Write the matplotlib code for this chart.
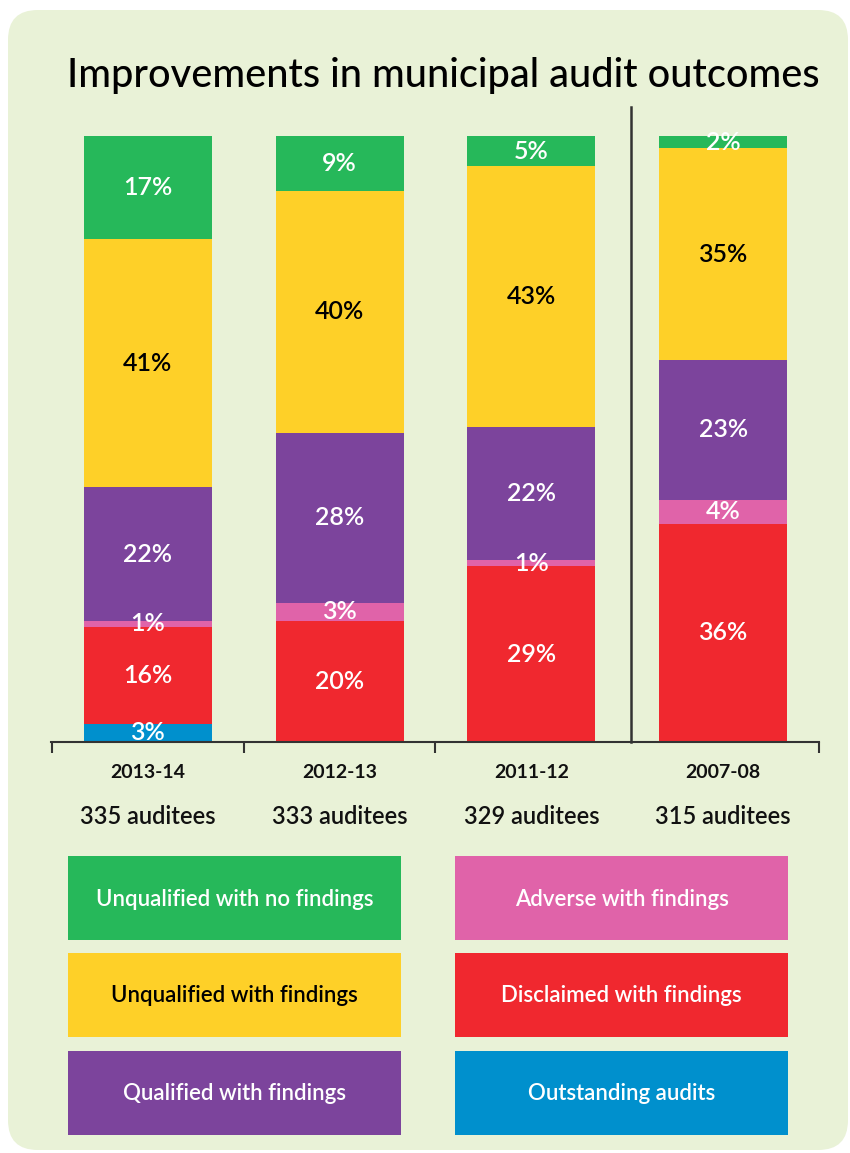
import numpy as np
import matplotlib.pyplot as plt
from matplotlib.patches import FancyBboxPatch, Rectangle

# ---- data -------------------------------------------------------------
years = ["2013-14", "2012-13", "2011-12", "2007-08"]
auditees = [335, 333, 329, 315]

categories = [
    "Outstanding audits",
    "Disclaimed with findings",
    "Adverse with findings",
    "Qualified with findings",
    "Unqualified with findings",
    "Unqualified with no findings",
]
outstanding = [3, 0, 0, 0]
disclaimed = [16, 20, 29, 36]
adverse = [1, 3, 1, 4]
qualified = [22, 28, 22, 23]
unqualified_findings = [41, 40, 43, 35]
unqualified_clean = [17, 9, 5, 2]
series = [outstanding, disclaimed, adverse, qualified,
          unqualified_findings, unqualified_clean]

colors = ["#0090cd", "#f0282f", "#e063a9", "#7c449c", "#fed028", "#26b85a"]
text_colors = ["white", "white", "white", "white", "black", "white"]

BG = "#e9f2d7"
FONT = ["Lato", "DejaVu Sans"]
W, H = 850, 1153

fig = plt.figure(figsize=(W / 100, H / 100), dpi=100)
fig.patch.set_facecolor("white")

# rounded panel behind everything
panel = FancyBboxPatch((8 / W, 1 - 1150 / H), 840 / W, 1140 / H,
                       boxstyle="round,pad=0,rounding_size=0.035",
                       transform=fig.transFigure, fc=BG, ec="none",
                       mutation_aspect=W / H, zorder=-5)
fig.patches.append(panel)

fig.text(443 / W, 1 - 76 / H, "Improvements in municipal audit outcomes",
         ha="center", va="center", fontsize=28.5, family=FONT,
         weight="medium", zorder=5)

# ---- stacked bars -----------------------------------------------------
def fy(py):
    return 1 - py / H

ax = fig.add_axes([51 / W, fy(742), (819 - 51) / W, (742 - 100) / H])
ax.set_facecolor("none")
ymax = (742 - 100) / 6.06
ax.set_ylim(0, ymax)
ax.set_xlim(-0.505, 3.5)

x = np.arange(len(years))
bottom = np.zeros(len(years))
for vals, c, tc in zip(series, colors, text_colors):
    vals = np.array(vals, dtype=float)
    ax.bar(x, vals, bottom=bottom, width=0.667, color=c, lw=0, zorder=2)
    for xi, v, b in zip(x, vals, bottom):
        if v > 0:
            ax.text(xi, b + v / 2, f"{int(v)}%", ha="center", va="center",
                    color=tc, fontsize=18, family=FONT, weight="semibold",
                    zorder=3, clip_on=False)
    bottom += vals

# axis cosmetics
for s in ["top", "left", "right"]:
    ax.spines[s].set_visible(False)
ax.spines["bottom"].set_color("#333333")
ax.spines["bottom"].set_linewidth(1.5)
ax.set_yticks([])
ax.set_xticks([])
ax.set_xticks([-0.5, 0.5, 1.5, 3.5], minor=True)
ax.tick_params(axis="x", which="minor", length=8, width=1.5, color="#333333",
               direction="out")
ax.plot([2.52, 2.52], [0, (742 - 107) / 6.06], color="#333333", lw=1.8,
        clip_on=False, zorder=4)

tr = ax.get_xaxis_transform()
for xi, yr, n in zip(x, years, auditees):
    ax.text(xi, -30 / 642, yr, transform=tr, ha="center", va="center",
            fontsize=14, family=FONT, weight="bold", color="#111111")
    ax.text(xi, -75 / 642, f"{n} auditees", transform=tr, ha="center",
            va="center", fontsize=17, family=FONT, weight="semibold",
            color="#111111")

# ---- legend boxes -----------------------------------------------------
lax = fig.add_axes([0, 0, 1, 1])
lax.set_xlim(0, W)
lax.set_ylim(H, 0)
lax.axis("off")
lax.set_facecolor("none")

legend_order = [5, 2, 4, 1, 3, 0]   # left/right per row, top to bottom
col_x = [68, 455]
row_y = [856, 953, 1051]
for k, ci in enumerate(legend_order):
    bx = col_x[k % 2]
    by = row_y[k // 2]
    lax.add_patch(Rectangle((bx, by), 333, 84, fc=colors[ci], ec="none"))
    lax.text(bx + 166.5, by + 43, categories[ci], ha="center", va="center",
             color=text_colors[ci], fontsize=16, family=FONT,
             weight="semibold")

fig.savefig("out.png", dpi=100, facecolor=fig.get_facecolor())
